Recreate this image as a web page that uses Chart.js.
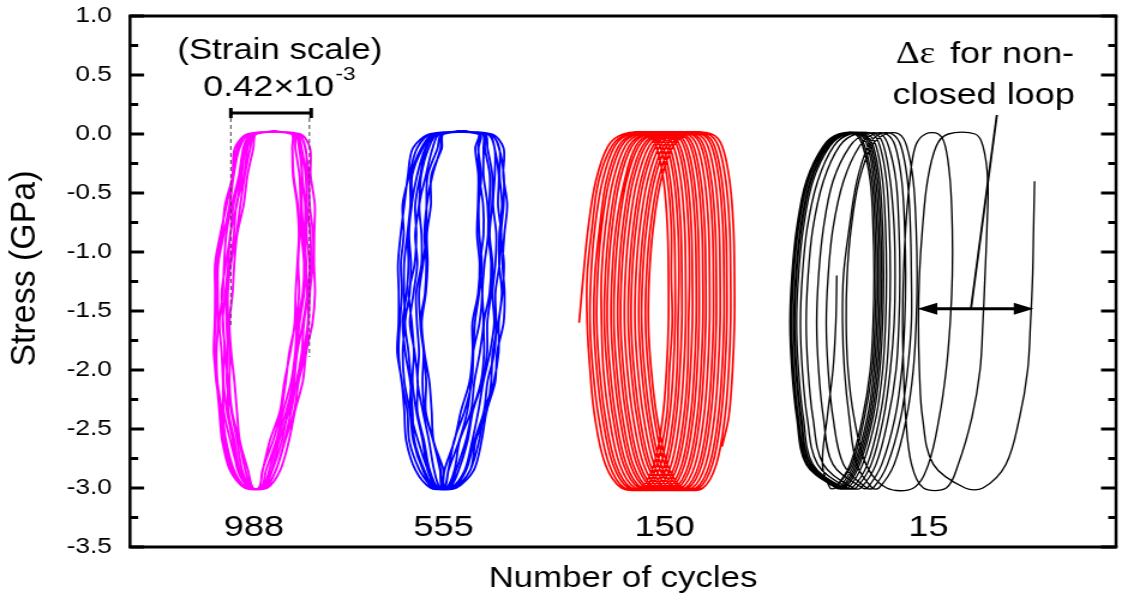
<!DOCTYPE html>
<html>
<head>
<meta charset="utf-8">
<title>Stress–strain hysteresis loops</title>
<script src="https://cdn.jsdelivr.net/npm/chart.js@4.4.1/dist/chart.umd.min.js"></script>
<style>
  html, body { margin: 0; padding: 0; background: #fff; overflow: hidden; width: 1122px; height: 607px; }
  #wrap { width: 938px; height: 607px; transform: scaleX(1.2); transform-origin: 0 0; }
  canvas { display: block; }
</style>
</head>
<body>
<div id="wrap"><canvas id="loops" width="938" height="607"></canvas></div>
<script>
// Strain is plotted in units of 1e-5 (each group offset along the axis); stress in GPa.
// A cycle row holds the rising branch (bottom to top) followed by the falling branch (top to bottom).
const FINE_STRESS = [-3.0, -2.85, -2.6, -2.35, -2.1, -1.85, -1.6, -1.35, -1.1, -0.85, -0.6, -0.35, -0.12, 0.0,
                      0.0, -0.12, -0.35, -0.6, -0.85, -1.1, -1.35, -1.6, -1.85, -2.1, -2.35, -2.6, -2.85, -3.0];
const CYCLE_STRESS = [-3.0, -2.8, -2.4, -2.0, -1.6, -1.2, -0.8, -0.4, -0.1, 0.0,
                       0.0, -0.1, -0.4, -0.8, -1.2, -1.6, -2.0, -2.4, -2.8, -3.0];

const STRESS_TICKS = [1.0, 0.5, 0.0, -0.5, -1.0, -1.5, -2.0, -2.5, -3.0, -3.5];
const STRESS_MINOR = [0.75, 0.25, -0.25, -0.75, -1.25, -1.75, -2.25, -2.75, -3.25];

const CYCLE_COUNTS = ['988', '555', '150', '15'];
const CYCLE_COUNT_STRAIN = [64.8, 163.9, 279.5, 417.4];

// 988 cycles (read at FINE_STRESS)
const magentaCycles = [
  [60.2, 53.5, 49.1, 47.6, 45.1, 44.1, 44.6, 45.4, 45.3, 48.1, 49.7, 53.9, 56.1, 61.9,   88.0, 91.5, 93.4, 93.9, 95.7, 95.6, 94.0, 93.3, 91.7, 88.1, 85.8, 81.1, 76.3, 71.0],
  [63.7, 60.3, 57.1, 53.3, 52.0, 52.5, 51.4, 51.1, 52.7, 55.6, 57.7, 60.0, 62.9, 65.4,   84.5, 84.9, 85.5, 87.7, 88.5, 87.9, 88.4, 86.5, 83.3, 81.4, 79.0, 74.8, 69.2, 67.5],
  [61.7, 56.7, 52.5, 49.0, 48.6, 47.9, 46.7, 48.5, 49.2, 50.3, 53.2, 57.0, 59.3, 63.4,   87.0, 89.7, 91.8, 92.5, 92.3, 93.8, 93.1, 90.9, 89.8, 87.0, 82.6, 79.4, 74.4, 70.0],
  [64.4, 61.7, 57.4, 55.9, 54.6, 52.9, 52.0, 53.6, 54.5, 56.0, 59.4, 61.4, 64.5, 66.1,   85.5, 86.4, 88.6, 89.2, 89.6, 91.0, 90.3, 87.4, 86.4, 84.2, 80.1, 76.5, 71.1, 68.5],
  [60.7, 54.4, 50.2, 48.1, 45.7, 45.2, 46.0, 45.9, 46.1, 49.0, 52.1, 54.2, 57.2, 62.4,   88.7, 94.1, 94.4, 96.6, 96.3, 96.2, 96.7, 95.4, 92.1, 90.3, 86.2, 83.1, 78.5, 71.7],
  [62.7, 57.4, 54.6, 51.4, 51.0, 50.0, 48.4, 49.8, 51.4, 52.4, 55.8, 58.4, 60.4, 64.4,   86.0, 88.4, 89.9, 89.8, 90.7, 92.1, 91.0, 88.6, 87.0, 85.3, 81.7, 76.7, 72.8, 69.0],
  [60.0, 52.3, 48.2, 46.7, 45.3, 43.8, 44.3, 44.5, 44.5, 47.2, 50.5, 53.6, 54.8, 61.7,   87.5, 91.8, 92.3, 92.5, 94.3, 94.5, 93.3, 93.0, 90.5, 87.0, 84.2, 80.7, 76.2, 70.5],
  [63.2, 58.6, 56.0, 53.0, 50.6, 51.2, 50.5, 50.4, 52.5, 54.3, 55.6, 59.7, 61.5, 64.9,   84.3, 84.8, 85.2, 87.4, 88.3, 87.5, 86.6, 86.1, 83.8, 80.7, 78.4, 73.1, 69.4, 67.3],
  [62.2, 56.3, 53.8, 50.7, 48.9, 49.4, 48.7, 47.9, 50.1, 52.5, 54.1, 57.8, 59.2, 63.9,   86.5, 89.5, 90.0, 91.6, 91.4, 91.8, 92.6, 90.4, 87.4, 85.7, 83.1, 77.9, 74.1, 69.5]
];

// 555 cycles (read at FINE_STRESS)
const blueCycles = [
  [157.7, 151.4, 146.0, 145.0, 142.0, 140.4, 141.1, 142.1, 141.6, 143.1, 142.5, 146.0, 150.1, 157.5,   187.5, 190.6, 192.8, 192.4, 194.1, 193.2, 191.0, 191.4, 190.5, 186.9, 185.0, 180.0, 175.7, 169.0],
  [163.2, 162.1, 158.5, 154.1, 152.9, 153.5, 151.8, 151.1, 153.2, 154.9, 155.0, 155.6, 160.8, 163.0,   183.0, 182.2, 182.5, 184.6, 184.8, 183.1, 184.1, 182.7, 179.4, 178.3, 176.3, 172.1, 166.5, 164.5],
  [159.7, 155.7, 150.6, 146.6, 146.8, 145.6, 143.8, 146.2, 146.9, 145.9, 147.2, 150.1, 154.4, 159.5,   188.5, 192.9, 195.4, 195.3, 194.0, 195.5, 194.7, 192.8, 192.7, 190.2, 185.2, 182.5, 177.8, 170.0],
  [164.2, 163.9, 158.7, 157.7, 156.5, 153.9, 152.5, 154.6, 155.6, 155.2, 157.3, 157.5, 163.0, 164.0,   185.0, 185.5, 188.1, 187.9, 187.4, 188.8, 188.0, 185.0, 185.1, 183.5, 179.0, 175.6, 170.4, 166.5],
  [158.7, 153.2, 148.1, 146.3, 143.4, 142.6, 143.7, 143.3, 143.3, 145.0, 146.6, 146.9, 152.3, 158.5,   189.0, 195.3, 195.1, 197.2, 195.7, 194.8, 195.8, 195.3, 191.9, 190.9, 186.4, 183.8, 179.7, 170.5],
  [161.2, 156.7, 153.7, 150.2, 150.4, 148.8, 146.3, 148.2, 150.2, 149.1, 151.1, 152.2, 156.1, 161.0,   182.5, 182.0, 183.6, 182.3, 182.6, 183.9, 182.5, 180.3, 179.5, 178.7, 174.9, 169.4, 166.4, 164.0],
  [157.2, 149.3, 144.4, 143.4, 142.1, 139.7, 140.4, 140.5, 140.1, 141.5, 143.4, 145.3, 147.9, 157.0,   186.5, 190.6, 190.7, 189.8, 191.5, 191.0, 189.5, 190.4, 188.2, 184.7, 182.1, 178.9, 175.0, 168.0],
  [162.2, 159.0, 156.3, 153.1, 150.3, 151.1, 150.0, 149.6, 152.4, 152.4, 151.3, 154.7, 158.2, 162.0,   184.0, 184.8, 184.8, 186.9, 187.2, 185.3, 184.2, 184.8, 182.9, 180.0, 178.2, 172.3, 169.6, 165.5],
  [160.7, 155.6, 153.0, 149.7, 147.7, 148.4, 147.3, 145.8, 148.8, 149.7, 149.1, 151.8, 154.8, 160.5,   188.0, 193.1, 193.2, 194.5, 193.1, 193.0, 194.4, 192.5, 189.6, 188.8, 186.5, 180.7, 177.9, 169.5],
  [163.7, 162.5, 158.6, 154.6, 154.8, 153.6, 151.8, 154.2, 154.9, 153.9, 155.2, 158.1, 162.4, 163.5,   185.5, 186.9, 189.4, 189.3, 188.0, 189.5, 188.7, 186.8, 186.7, 184.2, 179.2, 176.5, 171.8, 167.0],
  [159.2, 153.9, 148.7, 147.7, 146.5, 143.9, 142.5, 144.6, 145.6, 145.2, 147.3, 147.5, 153.0, 159.0,   182.0, 180.5, 182.1, 181.9, 181.4, 182.8, 182.0, 179.0, 179.1, 177.5, 173.0, 169.6, 164.4, 163.5]
];

// 150 cycles, ratcheting to the right (read at CYCLE_STRESS)
const redCycles = [
  [null, null, null, null, 234.8, 237, 239.5, 243.5, 250, 258,     269.5, 275, 279, 281, 281.5, 281.5, 280.5, 278.5, 274, 267],
  [257, 248.5, 243, 240.5, 239, 239, 241.5, 245, 252, 260,         271, 277, 281, 283, 283, 283.5, 282, 280.5, 275.5, 269],
  [258.5, 250.5, 245, 242, 240.5, 241, 243, 247, 253.5, 261.5,     273, 278.5, 282.5, 284.5, 285, 285, 284, 282, 277.5, 270.5],
  [260.5, 252.5, 247, 244, 242.5, 243, 245.5, 249, 255.5, 263.5,   275, 280.5, 284.5, 286.5, 287, 286.5, 286, 284, 279.5, 272.5],
  [262, 254, 248.5, 245.5, 244, 244.5, 246.5, 250.5, 257, 265,     276.5, 282, 286, 288, 288.5, 288.5, 287.5, 285.5, 281, 274],
  [264, 256, 250.5, 247.5, 246.5, 246.5, 248.5, 252.5, 259, 267,   278.5, 284, 288, 290, 290.5, 290.5, 289.5, 287.5, 283, 276],
  [266, 258, 252.5, 249.5, 248, 248.5, 250.5, 254.5, 261, 269,     280.5, 286, 290, 292, 292.5, 292, 291.5, 289.5, 285, 278],
  [267.5, 259.5, 254, 251, 249.5, 250, 252, 256, 262.5, 270.5,     282, 287.5, 291.5, 293.5, 294, 294, 293, 291, 286.5, 279.5],
  [269.5, 261.5, 256, 253, 251.5, 252, 254, 258.5, 264.5, 272.5,   284, 289.5, 293.5, 295.5, 296, 296, 295, 293, 288.5, 281.5],
  [271, 263, 257.5, 254.5, 253, 253.5, 255.5, 259.5, 266, 274,     285.5, 291, 295, 297, 297.5, 297.5, 296.5, 294.5, 290, 283],
  [273, 265, 259.5, 256.5, 255, 255.5, 257.5, 261.5, 268, 276,     287.5, 293, 297, 299, 299.5, 299.5, 298.5, 296.5, 292, 285],
  [274.5, 266.5, 261, 258, 256.5, 257, 259, 263, 269.5, 277.5,     289, 294.5, 298.5, 300.5, 301, 301, 300, 298, 293.5, 286.5],
  [276.5, 268.5, 263, 260, 258.5, 259, 261, 265, 271.5, 279.5,     291, 296.5, 300.5, 302.5, 303, 303, 302, 300, 295.5, 288.5],
  [278.5, 270.5, 265, 262, 260.5, 261, 263, 267, 273.5, 281.5,     293, 298.5, 302.5, 304.5, 305, 305, 304, 302, 297.5, 290.5],
  [280, 272, 266.5, 263.5, 262, 262.5, 264.5, 268.5, 275, 283,     294.5, 300, 304, 306, 306.5, 306.5, 305.5, 303.5, 299, 292],
  [282, 274, 268.5, 265.5, 264, 264.5, 266.5, 270.5, 277, 285,     296.5, 302, 306, 308, 308.5, 308.5, 307.5, 305.5, 301, 294],
  [284, 276, 270.5, 267.5, 266, 266.5, 268.5, 272.5, 279, 287,     298.5, 304, 308, 310, 310.5, 310.5, 309.5, 307.5, 303, 296],
  [285.5, 277.5, 272, 269, 267.5, 268, 270, 274, 280.5, 288.5,     300, 305.5, 309.5, 311.5, 312, 312, 311, 309, 304.5, 297.5],
  [287.5, 279.5, 274, 271, 269.5, 270, 272, 276, 282.5, 290.5,     302, 307.5, 311.5, 313.5, 314, 314, 313, 311, 306.5, 299.5],
  [289, 281, 275.5, 272.5, 271, 271.5, 273.5, 277.5, 284, 292,     304, 309.5, 313.5, 315.5, 316, 316, 315, 313, null, null]
];
const redTail = [309.5, -2.65];

// 15 cycles: first branch starts partway down, last branch stops partway up (read at CYCLE_STRESS)
const blackCycles = [
  [null, null, null, null, null, null, null, null, null, null,                      null, null, 472.9, 472.4, 471.9, 470.8, 469.3, 465.1, 457.9, 445.9],
  [436.6, 420.0, 414.3, 412.7, 412.2, 412.7, 414.3, 416.9, 421.6, 427.8,            441.8, 445.9, 448.5, 448.0, 447.0, 445.9, 444.4, 440.2, 433.0, 426.7],
  [414.8, 408.6, 405.5, 404.4, 403.9, 404.4, 405.5, 407.6, 410.7, 415.9,            422.6, 426.2, 428.8, 429.9, 429.9, 428.8, 426.7, 423.1, 417.4, 409.6],
  [395.6, 384.8, 378.5, 375.4, 374.4, 374.9, 377.0, 381.1, 387.9, 395.1,            402, 406, 409.5, 411, 411.5, 411, 409.5, 406, 399.5, 391.5],
  [388, 380, 376, 373.5, 372.5, 373, 376, 380, 386, 392,                            398.5, 403, 406.5, 408, 408.5, 408.5, 406.5, 403, 396, 388.5],
  [385, 373, 367.5, 365, 364, 365, 367.5, 373, 381.5, 389,                          395.5, 400, 403.5, 405, 405.5, 405, 403.5, 400, 393, 385.5],
  [383, 367.5, 362.5, 360, 359, 360, 362.5, 367.5, 376.5, 384.5,                    392.5, 396.5, 400.5, 402, 402.5, 402, 400.5, 396.5, 390, 382],
  [378, 362.5, 357, 354.5, 353.5, 354.5, 357, 362.5, 371, 379.5,                    390, 394, 397.5, 399.5, 400, 399.5, 397.5, 394, 387.5, 379.5],
  [375, 359.5, 354, 351.5, 350.5, 351.5, 354, 359.5, 368, 376.5,                    388, 392, 395.5, 397, 397.5, 397, 395.5, 392, 385.5, 377.5],
  [373, 357, 352, 349.5, 348.5, 349.5, 352, 357, 366, 374.5,                        385.5, 390, 393.5, 395, 395.5, 395, 393.5, 390, 383, 375.5],
  [371.5, 355.5, 350.5, 348, 347, 348, 350.5, 355.5, 364.5, 373,                    384, 388.5, 392, 393.5, 394, 393.5, 392, 388.5, 381.5, 374],
  [370, 354.5, 349.5, 347, 346, 347, 349.5, 354.5, 363.5, 371.5,                    383, 387.5, 391, 392.5, 393, 392.5, 391, 387.5, 380.5, 373],
  [369.5, 354, 349, 346.5, 345.5, 346.5, 349, 354, 363, 371,                        382, 386.5, 390, 391.5, 392, 391.5, 390, 386.5, 379.5, 372],
  [369, 353.5, 348.5, 346, 345, 346, 348.5, 353.5, 362.5, 370.5,                    381, 385.5, 389, 390.5, 391, 390.5, 389, 385.5, 378.5, 371],
  [370, 354.5, 349.5, 347, 346, 347, 349.5, 354.5, 363.5, 371.5,                    380, 384, 388, 389.5, 390, 389.5, 388, 384, 377.5, 369.5],
  [372, 356, 351, 348.5, 347.5, 348.5, 351, 356, 365, 373.5,                        379, 383, 387, 388.5, 389, 388.5, 387, 383, 376.5, 368.5],
  [366, 362, 364.5, 367.5, 369, 369.5, null, null, null, null,                      null, null, null, null, null, null, null, null, null, null]
];

// Strain scale bar: 0.42e-3 = 42 units
const strainScaleBar = [52.7, 94.7];
const strainScaleStress = 0.178;
const strainGuideLeft = [[52.7, 0.136], [52.7, -1.644]];
const strainGuideRight = [[93.8, 0.136], [93.8, -1.89]];

// Δε for the non-closed loop, measured at -1.48 GPa
const deltaStrain = [411.7, 472.4];
const deltaStress = -1.48;
const deltaLeader = [[453.2, 0.161], [439.7, -1.475]];

function traceFrom(cycles, levels, tail) {
  const pts = [];
  cycles.forEach(row => row.forEach((x, i) => {
    if (x !== null) pts.push({ x: x, y: levels[i] });
  }));
  if (tail) pts.push({ x: tail[0], y: tail[1] });
  return pts;
}
const pairs = list => list.map(p => ({ x: p[0], y: p[1] }));

const SANS = "'Liberation Sans', Arial, sans-serif";
const SERIF = "'Liberation Serif', 'Times New Roman', serif";

const loopStyle = (color, width, tension) => ({
  showLine: true, borderColor: color, backgroundColor: color, borderWidth: width,
  pointRadius: 0, tension: tension, fill: false
});

const decor = {
  id: 'decor',
  afterDatasetsDraw(chart) {
    const { ctx, chartArea: a, scales } = chart;
    const y = scales.y;
    ctx.save();
    ctx.strokeStyle = '#000';
    ctx.lineCap = 'butt';
    // frame
    ctx.lineWidth = 2.5;
    ctx.beginPath();
    ctx.moveTo(a.left, a.top); ctx.lineTo(a.left, a.bottom);
    ctx.moveTo(a.right, a.top); ctx.lineTo(a.right, a.bottom);
    ctx.stroke();
    ctx.lineWidth = 2.8;
    ctx.beginPath();
    ctx.moveTo(a.left - 1.25, a.top); ctx.lineTo(a.right + 1.25, a.top);
    ctx.moveTo(a.left - 1.25, a.bottom); ctx.lineTo(a.right + 1.25, a.bottom);
    ctx.stroke();
    // inward tick marks on both stress axes
    ctx.lineWidth = 2.8;
    ctx.beginPath();
    STRESS_TICKS.forEach(v => {
      const py = y.getPixelForValue(v);
      ctx.moveTo(a.left, py); ctx.lineTo(a.left + 11.7, py);
      ctx.moveTo(a.right, py); ctx.lineTo(a.right - 12.5, py);
    });
    STRESS_MINOR.forEach(v => {
      const py = y.getPixelForValue(v);
      ctx.moveTo(a.left, py); ctx.lineTo(a.left + 6.8, py);
      ctx.moveTo(a.right, py); ctx.lineTo(a.right - 6.5, py);
    });
    ctx.stroke();
    ctx.restore();
  },
  afterDraw(chart) {
    const { ctx, chartArea: a, scales: { x, y } } = chart;
    ctx.save();
    ctx.fillStyle = '#000';

    // stress axis title
    ctx.save();
    ctx.translate(20.5, (a.top + a.bottom) / 2 - 13);
    ctx.rotate(-Math.PI / 2);
    ctx.scale(1.17, 1);
    ctx.font = '29px ' + SANS;
    ctx.textAlign = 'center';
    ctx.textBaseline = 'middle';
    ctx.fillText('Stress (GPa)', 0, 0);
    ctx.restore();

    // arrowheads of the Δε marker
    const ay = y.getPixelForValue(deltaStress);
    const xl = x.getPixelForValue(deltaStrain[0]);
    const xr = x.getPixelForValue(deltaStrain[1]);
    const len = 16.5, half = 6;
    ctx.beginPath();
    ctx.moveTo(xl, ay); ctx.lineTo(xl + len, ay - half); ctx.lineTo(xl + len, ay + half); ctx.closePath();
    ctx.moveTo(xr, ay); ctx.lineTo(xr - len, ay - half); ctx.lineTo(xr - len, ay + half); ctx.closePath();
    ctx.fill();

    // cycle counts under each group
    ctx.font = '30px ' + SANS;
    ctx.textAlign = 'center';
    ctx.textBaseline = 'alphabetic';
    CYCLE_COUNTS.forEach((t, i) => {
      ctx.fillText(t, x.getPixelForValue(CYCLE_COUNT_STRAIN[i]), y.getPixelForValue(-3.41));
    });

    // strain scale caption
    ctx.font = '29px ' + SANS;
    ctx.fillText('(Strain scale)', x.getPixelForValue(78.3), y.getPixelForValue(0.633));
    const main = '0.42\u00D710', sup = '-3';
    ctx.font = '30px ' + SANS;
    const wMain = ctx.measureText(main).width;
    ctx.font = '19px ' + SANS;
    const wSup = ctx.measureText(sup).width;
    const x0 = x.getPixelForValue(77.8) - (wMain + wSup) / 2;
    ctx.textAlign = 'left';
    ctx.font = '30px ' + SANS;
    ctx.fillText(main, x0, y.getPixelForValue(0.322));
    ctx.font = '19px ' + SANS;
    ctx.fillText(sup, x0 + wMain + 1, y.getPixelForValue(0.458));

    // Δε note
    const nx = x.getPixelForValue(400.3);
    const ny1 = y.getPixelForValue(0.599);
    ctx.font = '31px ' + SERIF;
    const wDelta = ctx.measureText('\u0394\u03B5').width;
    ctx.fillText('\u0394\u03B5', nx, ny1);
    ctx.font = '30px ' + SANS;
    ctx.fillText(' for non-', nx + wDelta + 4, ny1);
    ctx.fillText('closed loop', x.getPixelForValue(398.7), y.getPixelForValue(0.258));
    ctx.restore();
  }
};

new Chart(document.getElementById('loops'), {
  type: 'scatter',
  data: {
    datasets: [
      Object.assign({ data: pairs([[strainScaleBar[0], strainScaleStress], [strainScaleBar[1], strainScaleStress]]) },
        { showLine: true, borderColor: '#000', borderWidth: 3, tension: 0,
          pointStyle: 'line', pointRadius: 5, pointRotation: 90, pointBorderWidth: 3, pointBorderColor: '#000' }),
      { data: pairs(strainGuideLeft), showLine: true, borderColor: '#444', borderWidth: 1, borderDash: [4, 3], pointRadius: 0, tension: 0 },
      { data: pairs(strainGuideRight), showLine: true, borderColor: '#444', borderWidth: 1, borderDash: [4, 3], pointRadius: 0, tension: 0 },
      { data: pairs([[deltaStrain[0] + 4, deltaStress], [deltaStrain[1] - 4, deltaStress]]), showLine: true, borderColor: '#000', borderWidth: 3, pointRadius: 0, tension: 0 },
      { data: pairs(deltaLeader), showLine: true, borderColor: '#000', borderWidth: 1.8, pointRadius: 0, tension: 0 },
      Object.assign({ data: traceFrom(magentaCycles, FINE_STRESS) }, loopStyle('#FF00FF', 1.9, 0.3)),
      Object.assign({ data: traceFrom(blueCycles, FINE_STRESS) }, loopStyle('#0000FF', 1.8, 0.3)),
      Object.assign({ data: traceFrom(redCycles, CYCLE_STRESS, redTail) }, loopStyle('#FF0000', 1.7, 0.35)),
      Object.assign({ data: traceFrom(blackCycles, CYCLE_STRESS) }, loopStyle('#000000', 1.35, 0.35))
    ]
  },
  options: {
    responsive: false,
    devicePixelRatio: 1,
    animation: false,
    events: [],
    layout: { padding: { top: 16, right: 1.2, left: 0, bottom: 0 } },
    plugins: { legend: { display: false }, tooltip: { enabled: false } },
    scales: {
      x: {
        type: 'linear', min: 0, max: 515.5,
        grid: { display: false, drawTicks: false },
        border: { display: false },
        ticks: { display: false },
        title: { display: true, text: 'Number of cycles', color: '#000',
                 font: { family: SANS, size: 29 }, padding: { top: 0, bottom: 11 } },
        afterFit: s => { s.height = 60; s.paddingLeft = 0; s.paddingRight = 0; }
      },
      y: {
        type: 'linear', min: -3.5, max: 1.0,
        grid: { display: false, drawTicks: false },
        border: { display: false },
        afterBuildTicks: s => { s.ticks = STRESS_TICKS.map(v => ({ value: v })); },
        ticks: { color: '#000', font: { family: SANS, size: 22 }, padding: 15,
                 callback: v => Number(v).toFixed(1) },
        title: { display: false },
        afterFit: s => { s.width = 108.33; s.paddingTop = 0; s.paddingBottom = 0; }
      }
    }
  },
  plugins: [decor]
});
</script>
</body>
</html>
